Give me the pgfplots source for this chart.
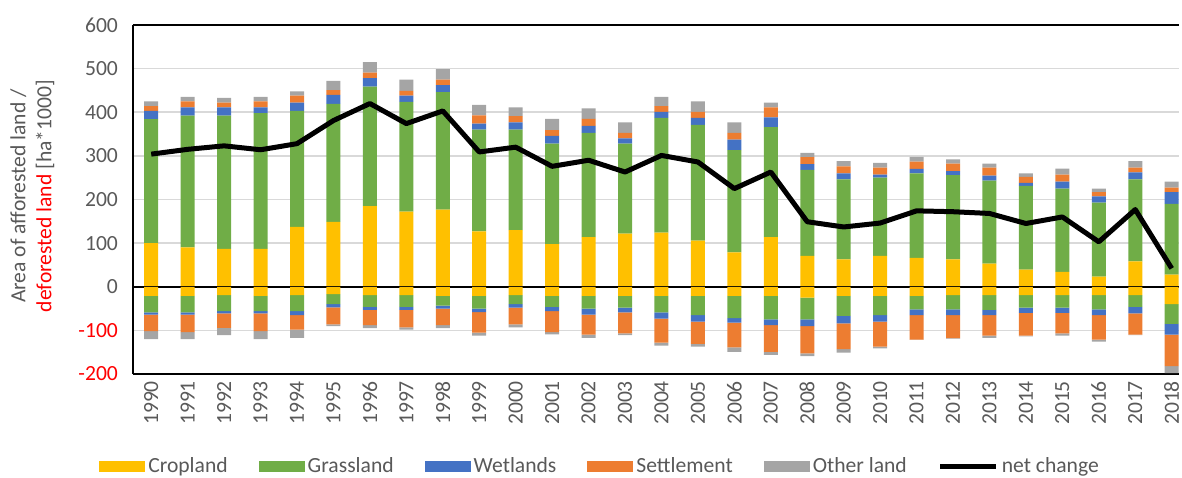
\documentclass[border=0pt]{standalone}
\usepackage{fontspec}
\setmainfont{Carlito}
\usepackage{pgfplots}
\usepackage{pgfplotstable}
\pgfplotsset{compat=1.18}
\usetikzlibrary{calc}

\definecolor{crop}{HTML}{FFC000}
\definecolor{grass}{HTML}{70AD47}
\definecolor{wet}{HTML}{4472C4}
\definecolor{settle}{HTML}{ED7D31}
\definecolor{other}{HTML}{A5A5A5}
\definecolor{txt}{HTML}{595959}
\definecolor{gridc}{HTML}{D9D9D9}

% afforested areas (positive)
\pgfplotstableread{
year crop grass wet settle other
1990 100 284 19 11 11
1991 90 302 19 14 10
1992 87 305 19 11 11
1993 87 311 13 14 10
1994 137 266 19 16 10
1995 149 270 21 11 21
1996 185 274 19 13 24
1997 172 252 14 11 26
1998 177 269 16 13 24
1999 127 233 14 19 24
2000 130 230 17 14 20
2001 98 230 18 13 26
2002 114 239 16 16 24
2003 122 206 12 13 24
2004 124 263 14 13 21
2005 106 265 16 14 24
2006 79 234 24 16 24
2007 114 252 22 23 11
2008 71 197 13 16 10
2009 63 183 14 16 12
2010 71 179 7 16 11
2011 66 194 10 17 11
2012 63 193 9 17 10
2013 53 190 12 18 9
2014 39 192 7 14 8
2015 34 191 16 16 14
2016 23 170 14 10 8
2017 58 188 16 11 15
2018 28 162 27 10 14
}\afforested

% deforested areas (negative)
\pgfplotstableread{
year crop grass wet settle other
1990 -21 -38 -5 -38 -18
1991 -21 -38 -5 -40 -16
1992 -19 -37 -5 -33 -17
1993 -21 -35 -5 -41 -18
1994 -19 -37 -9 -33 -19
1995 -17 -23 -7 -39 -4
1996 -19 -27 -7 -35 -7
1997 -19 -27 -7 -40 -5
1998 -21 -22 -7 -38 -7
1999 -21 -29 -8 -47 -7
2000 -19 -21 -8 -38 -7
2001 -21 -25 -10 -48 -5
2002 -21 -29 -14 -46 -7
2003 -21 -27 -11 -48 -4
2004 -21 -38 -14 -55 -7
2005 -21 -44 -15 -51 -6
2006 -21 -51 -10 -57 -10
2007 -21 -54 -13 -61 -7
2008 -25 -50 -15 -63 -6
2009 -21 -46 -17 -59 -8
2010 -21 -44 -15 -57 -4
2011 -21 -31 -13 -56 -1
2012 -19 -33 -13 -53 -1
2013 -19 -34 -12 -47 -5
2014 -19 -29 -12 -52 -2
2015 -19 -29 -12 -47 -5
2016 -19 -33 -13 -56 -5
2017 -19 -27 -15 -49 -1
2018 -40 -45 -25 -72 -16
}\deforested

\pgfplotstableread{
year net
1990 304
1991 315
1992 323
1993 314
1994 328
1995 381
1996 420
1997 374
1998 403
1999 309
2000 320
2001 276
2002 290
2003 263
2004 301
2005 286
2006 225
2007 263
2008 149
2009 137
2010 146
2011 174
2012 172
2013 168
2014 145
2015 160
2016 103
2017 177
2018 42
}\netchange

\pgfplotsset{
  frame/.style={
    width=523pt, height=174.5pt, scale only axis,
    xmin=1989.5, xmax=2018.2, ymin=-200, ymax=600,
  },
}

\begin{document}
\begin{tikzpicture}[font=\fontsize{10.8}{13}\selectfont]
% main axis: frame, grid, labels, legend, positive stacks
\begin{axis}[frame,
  ybar stacked, bar width=7pt,
  axis y line*=left, axis x line*=box,
  axis line style={black, line width=1.2pt},
  ymajorgrids, grid style={gridc, line width=0.8pt},
  ytick={-200,-100,...,600},
  yticklabels={\textcolor{red}{-200},\textcolor{red}{-100},0,100,200,300,400,500,600},
  xtick={1990,...,2018},
  /pgf/number format/assume math mode=true,
  /pgf/number format/1000 sep={},
  major tick length=0pt,
  tick label style={txt},
  xticklabel style={rotate=90, anchor=east},
  yticklabel style={xshift=-4pt},
  ylabel={Area of afforested land /\\\textcolor{red}{deforested land} [ha*1000]},
  every axis y label/.style={at={(axis description cs:-0.0963,0.51)}, rotate=90, anchor=center, align=center, txt},
  legend image code/.code={\fill[#1] (0pt,-2.75pt) rectangle (23pt,2.75pt);},
  legend style={at={(0.447,-0.2636)}, anchor=center, draw=none, legend columns=6,
    text=txt, /tikz/every even column/.append style={column sep=14pt},
    nodes={inner sep=1.5pt}},
]
\coordinate (bl) at (rel axis cs:0,0);
\coordinate (tr) at (rel axis cs:1,1);
\addplot[fill=crop, draw=none] table[x=year, y=crop] {\afforested};
\addlegendentry{Cropland}
\addplot[fill=grass, draw=none] table[x=year, y=grass] {\afforested};
\addlegendentry{Grassland}
\addplot[fill=wet, draw=none] table[x=year, y=wet] {\afforested};
\addlegendentry{Wetlands}
\addplot[fill=settle, draw=none] table[x=year, y=settle] {\afforested};
\addlegendentry{Settlement}
\addplot[fill=other, draw=none] table[x=year, y=other] {\afforested};
\addlegendentry{Other land}
\addlegendimage{legend image code/.code={\draw[black, line width=2.5pt] (0pt,0pt) -- (28pt,0pt);}}
\addlegendentry{net change}
\end{axis}

% negative stacks and zero line
\begin{axis}[frame, hide axis, ybar stacked, bar width=7pt]
\addplot[fill=crop, draw=none] table[x=year, y=crop] {\deforested};
\addplot[fill=grass, draw=none] table[x=year, y=grass] {\deforested};
\addplot[fill=wet, draw=none] table[x=year, y=wet] {\deforested};
\addplot[fill=settle, draw=none] table[x=year, y=settle] {\deforested};
\addplot[fill=other, draw=none] table[x=year, y=other] {\deforested};
\draw[black, line width=1pt] (axis cs:1989.5,0) -- (axis cs:2018.2,0);
\end{axis}

% net change line
\begin{axis}[frame, hide axis]
\addplot[black, line width=2.5pt, line join=round, mark=none] table[x=year, y=net] {\netchange};
\end{axis}

\pgfresetboundingbox
\path[use as bounding box] ($(bl)+(-66.5pt,-51.5pt)$) rectangle ($(tr)+(1.5pt,12.5pt)$);
\end{tikzpicture}
\end{document}
